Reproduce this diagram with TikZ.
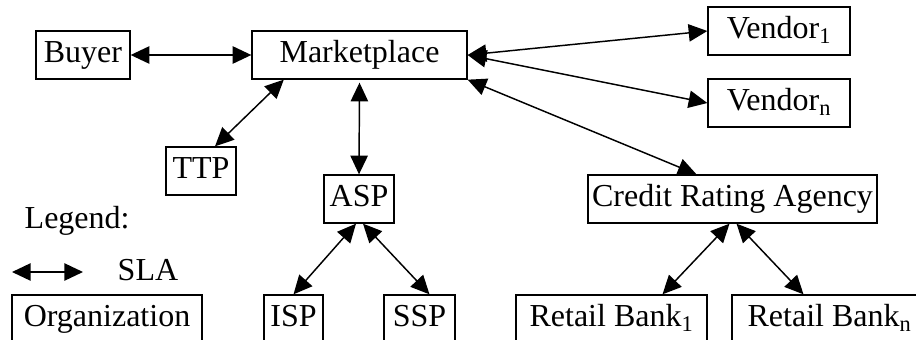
\documentclass[tikz,border=0pt]{standalone}
\usepackage{fontspec}
\setmainfont{Liberation Serif}
\usetikzlibrary{arrows.meta, calc}

\begin{document}
\begin{tikzpicture}[
  x=0.75pt, y=-0.75pt,
  box/.style={draw, line width=1pt, minimum height=36pt, inner xsep=0pt,
    text height=16.8pt, text depth=6pt, font=\fontsize{24}{28}\selectfont},
  label/.style={anchor=base west, font=\fontsize{24}{28}\selectfont},
  sla/.style={line width=1.1pt,
    {Triangle[length=14pt, width=13pt]}-{Triangle[length=14pt, width=13pt]}},
]
  \useasboundingbox (0,0) rectangle (916,339);
  \clip (0,0) rectangle (916,339);

  \node[box, minimum width=70.5pt] (buyer) at (83, 55) {Buyer};
  \node[box, minimum width=161.25pt] (mkt) at (359.5, 55) {Marketplace};
  \node[box, minimum width=106.5pt] (v1) at (779, 31) {Vendor\textsubscript{1}};
  \node[box, minimum width=106.5pt] (vn) at (779, 103) {Vendor\textsubscript{n}};
  \node[box, minimum width=52.5pt] (ttp) at (201, 171) {TTP};
  \node[box, minimum width=52.5pt] (asp) at (359, 199) {ASP};
  \node[box, minimum width=216.75pt] (cra) at (732.5, 199) {Credit Rating Agency};
  \node[box, minimum width=44.25pt] (isp) at (293.5, 319) {ISP};
  \node[box, minimum width=53.25pt] (ssp) at (419.5, 319) {SSP};
  \node[box, minimum width=143.25pt] (rb1) at (611.5, 319) {Retail Bank\textsubscript{1}};
  \node[box, minimum width=146.25pt] (rbn) at (829.5, 319) {Retail Bank\textsubscript{n}};

  % legend
  \node[label] (legend) at (20, 228) {Legend:};
  \coordinate (slaL) at (12, 272);
  \coordinate (slaR) at (83, 272);
  \node[label] (slatext) at (113, 280) {SLA};
  \node[box, minimum width=142.5pt] (org) at (107, 319) {Organization};

  \draw[sla] (buyer) -- (mkt);
  \draw[sla] ($(mkt.south west)!0.15!(mkt.south east)$) -- ($(ttp.north)+(14,0)$);
  \draw[sla] ($(mkt.south)+(0,3)$) -- (asp.north);
  \draw[sla] (mkt.east) -- (v1.west);
  \draw[sla] (mkt.east) -- (vn.west);
  \draw[sla] (mkt.south east) -- ($(cra.north)+(-36,0)$);
  \draw[sla] ($(asp.south)+(-3,0)$) -- (isp.north);
  \draw[sla] ($(asp.south)+(4,0)$) -- ($(ssp.north)+(10,0)$);
  \draw[sla] ($(cra.south)+(-3,0)$) -- ($(rb1.north)+(51,0)$);
  \draw[sla] ($(cra.south)+(4,0)$) -- ($(rbn.north)+(-26,0)$);
  \draw[sla] (slaL) -- (slaR);

\end{tikzpicture}
\end{document}
